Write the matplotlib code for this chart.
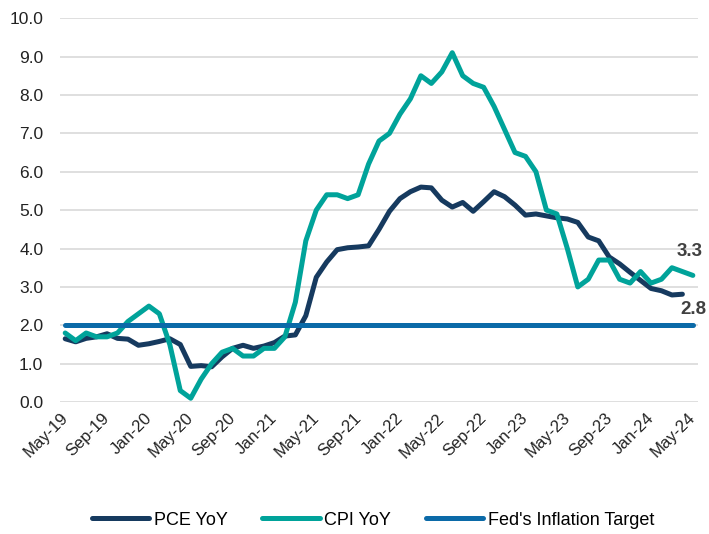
import matplotlib
matplotlib.use('Agg')
from matplotlib import pyplot as plt
from matplotlib.transforms import ScaledTranslation

# monthly data, May-19 .. May-24
months = ['May-19', 'Jun-19', 'Jul-19', 'Aug-19', 'Sep-19', 'Oct-19', 'Nov-19', 'Dec-19',
          'Jan-20', 'Feb-20', 'Mar-20', 'Apr-20', 'May-20', 'Jun-20', 'Jul-20', 'Aug-20',
          'Sep-20', 'Oct-20', 'Nov-20', 'Dec-20', 'Jan-21', 'Feb-21', 'Mar-21', 'Apr-21',
          'May-21', 'Jun-21', 'Jul-21', 'Aug-21', 'Sep-21', 'Oct-21', 'Nov-21', 'Dec-21',
          'Jan-22', 'Feb-22', 'Mar-22', 'Apr-22', 'May-22', 'Jun-22', 'Jul-22', 'Aug-22',
          'Sep-22', 'Oct-22', 'Nov-22', 'Dec-22', 'Jan-23', 'Feb-23', 'Mar-23', 'Apr-23',
          'May-23', 'Jun-23', 'Jul-23', 'Aug-23', 'Sep-23', 'Oct-23', 'Nov-23', 'Dec-23',
          'Jan-24', 'Feb-24', 'Mar-24', 'Apr-24', 'May-24']

cpi = [1.8, 1.6, 1.8, 1.7, 1.7, 1.8, 2.1, 2.3,
       2.5, 2.3, 1.5, 0.3, 0.1, 0.6, 1.0, 1.3, 1.4, 1.2, 1.2, 1.4,
       1.4, 1.7, 2.6, 4.2, 5.0, 5.4, 5.4, 5.3, 5.4, 6.2, 6.8, 7.0,
       7.5, 7.9, 8.5, 8.3, 8.6, 9.1, 8.5, 8.3, 8.2, 7.7, 7.1, 6.5,
       6.4, 6.0, 5.0, 4.9, 4.0, 3.0, 3.2, 3.7, 3.7, 3.2, 3.1, 3.4,
       3.1, 3.2, 3.5, 3.4, 3.3]

# PCE ends at Apr-24
pce = [1.65, 1.57, 1.66, 1.70, 1.78, 1.66, 1.64, 1.48,
       1.52, 1.58, 1.65, 1.50, 0.93, 0.95, 0.92, 1.18, 1.40, 1.48, 1.40, 1.46,
       1.55, 1.72, 1.75, 2.25, 3.25, 3.65, 3.97, 4.02, 4.04, 4.07, 4.50, 4.97,
       5.30, 5.48, 5.60, 5.58, 5.26, 5.08, 5.20, 4.97, 5.22, 5.48, 5.35, 5.13,
       4.87, 4.90, 4.85, 4.80, 4.77, 4.68, 4.30, 4.20, 3.78, 3.60, 3.38, 3.17,
       2.96, 2.90, 2.79, 2.81]

fed_target = [2.0] * len(months)

x_all = list(range(len(months)))

plt.rcParams['font.family'] = ['Liberation Sans', 'DejaVu Sans']

fig = plt.figure(figsize=(7.09, 5.34), dpi=100)
ax = fig.add_axes([0.0846, 0.247, 0.9, 0.719])

ax.plot(x_all[:len(pce)], pce, color='#163A5F', linewidth=3.6, label='PCE YoY', zorder=3,
        solid_joinstyle='round', solid_capstyle='round')
ax.plot(x_all, cpi, color='#00A39A', linewidth=3.6, label='CPI YoY', zorder=4,
        solid_joinstyle='round', solid_capstyle='round')
ax.plot(x_all, fed_target, color='#0B6AA8', linewidth=3.6, label="Fed's Inflation Target",
        zorder=5, solid_capstyle='round')

ax.text(59.7, 3.93, '3.3', fontsize=13.5, fontweight='bold', color='#404040',
        ha='center', va='center', clip_on=False)
ax.text(60.1, 2.42, '2.8', fontsize=13.5, fontweight='bold', color='#404040',
        ha='center', va='center', clip_on=False)

ax.set_ylim(0, 10)
ax.set_xlim(-0.5, len(months) - 0.5)
ax.set_yticks([i * 1.0 for i in range(11)])
ax.set_yticklabels(['%.1f' % v for v in [i * 1.0 for i in range(11)]], fontsize=12.5, color='#222222')
ax.set_xticks(x_all[::4])
ax.set_xticklabels(months[::4], rotation=45, ha='right', rotation_mode='anchor',
                   fontsize=12, color='#222222')
ax.tick_params(axis='both', length=0)
ax.tick_params(axis='y', pad=12)
ax.tick_params(axis='x', pad=6)

# nudge the date labels a little to the left
shift = ScaledTranslation(-5 / 100, 0, fig.dpi_scale_trans)
for lab in ax.get_xticklabels():
    lab.set_transform(lab.get_transform() + shift)

ax.grid(axis='y', color='#D9D9D9', linewidth=1.2)
ax.set_axisbelow(True)
for s in ax.spines.values():
    s.set_visible(False)

fig.legend(loc='center', bbox_to_anchor=(0.526, 0.026), ncol=3, frameon=False,
           fontsize=13, handlelength=3.2, handletextpad=0.25, columnspacing=1.9)

plt.savefig('out.png', dpi=100)
